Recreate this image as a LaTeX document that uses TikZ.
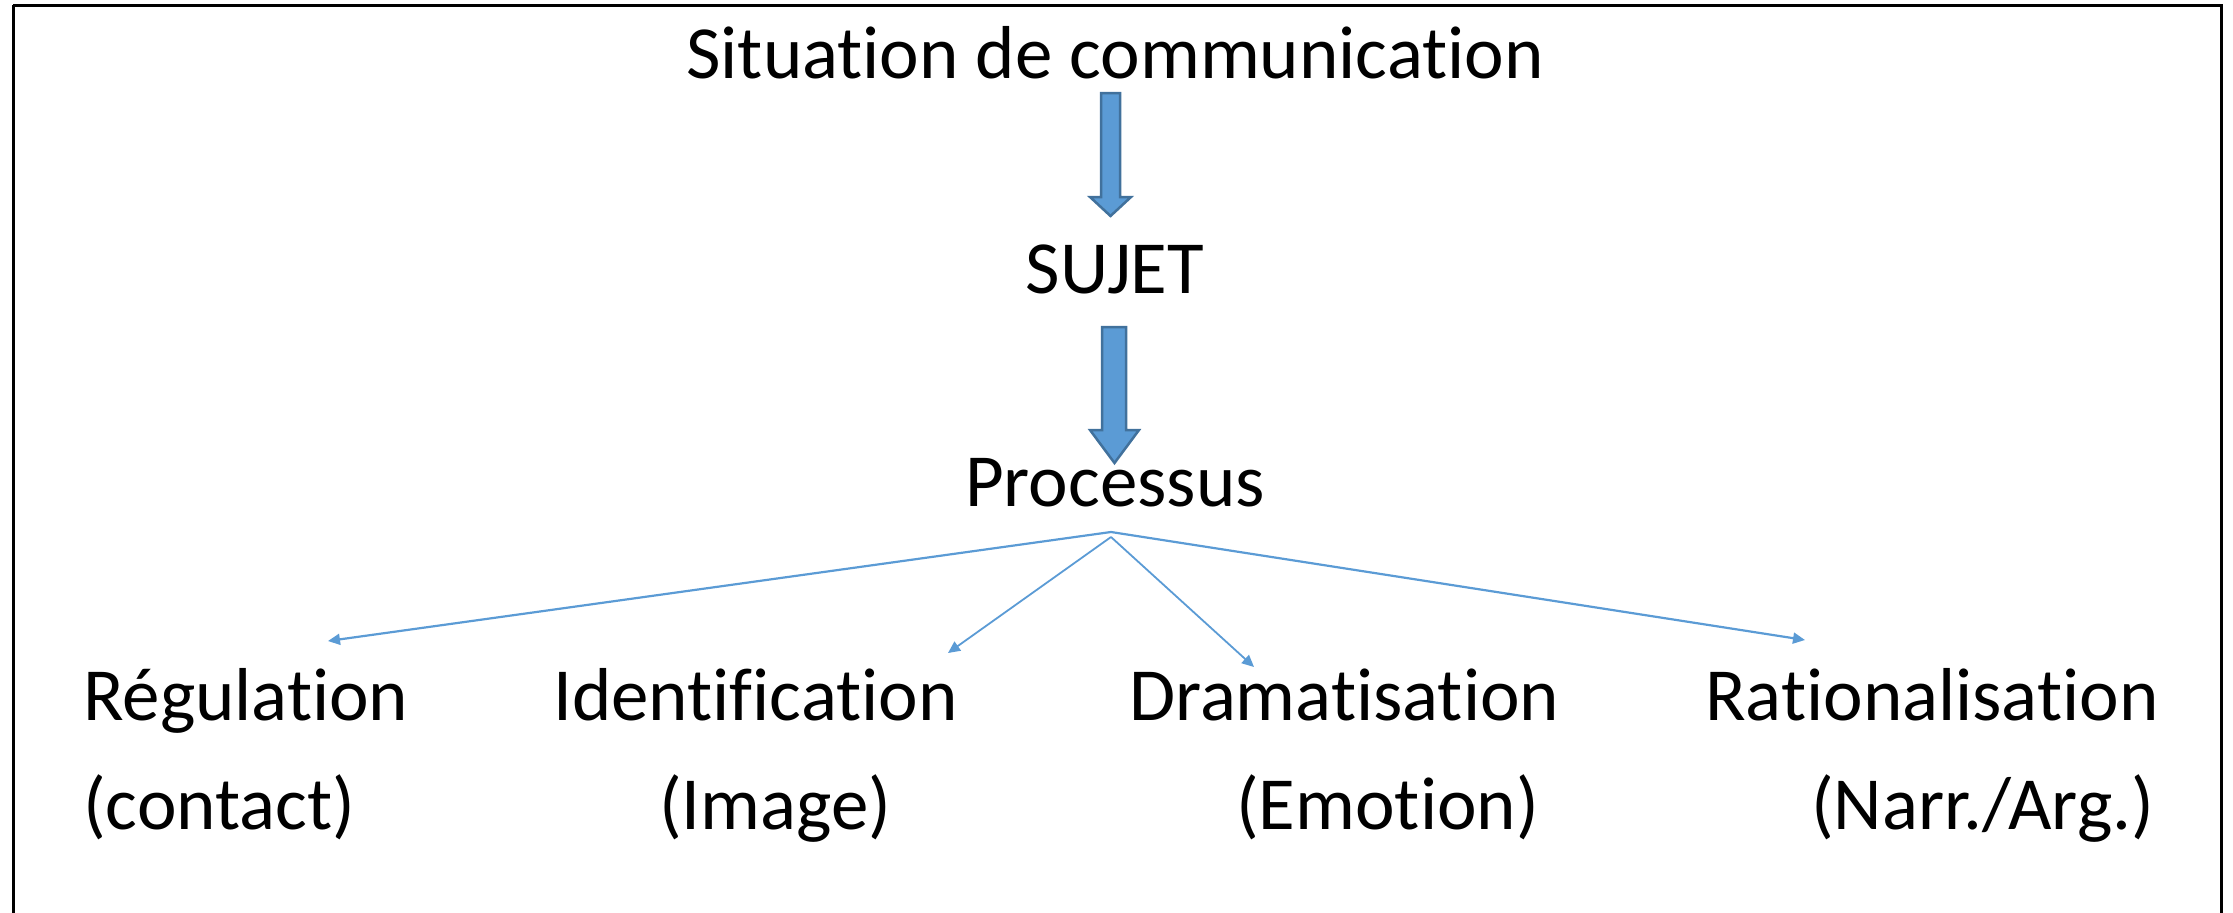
\documentclass[tikz,border=0pt]{standalone}
\usepackage{fontspec}
\setmainfont{Carlito}[Ligatures={NoCommon,TeX}]
\usetikzlibrary{arrows.meta}
\definecolor{blfill}{HTML}{5B9BD5}
\definecolor{bldraw}{HTML}{41719C}
\newcommand\nlg{\kern0pt }
\begin{document}
\begin{tikzpicture}[x=1pt,y=-1pt,
  lbl/.style={inner sep=0pt,font=\fontsize{75}{90}\selectfont},
  blockarrow/.style={fill=blfill,draw=bldraw,line width=2.5pt,line join=miter},
  thinarrow/.style={draw=blfill,line width=2.2pt,-{Triangle[length=12pt,width=11pt]}}]
\useasboundingbox (0,0) rectangle (2233,913);
\draw[line width=3pt] (13,5) -- (2221,5) -- (2221,940) (13,940) -- (13,5);
% texts
\node[lbl,anchor=base] (sit) at (1115,78) {Sit\nlg uat\nlg ion de communicat\nlg ion};
\node[lbl,anchor=base] (suj) at (1115,293) {SUJET};
\node[lbl,anchor=base] (proc) at (1115,506) {Processus};
\node[lbl,anchor=base west] (reg) at (83,720) {Régulat\nlg ion};
\node[lbl,anchor=base west] (regb) at (83,829) {(contact)};
\node[lbl,anchor=base west] (ide) at (553,720) {Ident\nlg if\nlg icat\nlg ion};
\node[lbl,anchor=base west] (ideb) at (659,829) {(Image)};
\node[lbl,anchor=base west] (dra) at (1129,720) {Dramat\nlg isat\nlg ion};
\node[lbl,anchor=base west] (drab) at (1236,829) {(Emot\nlg ion)};
\node[lbl,anchor=base west] (rat) at (1705,720) {Rat\nlg ionalisat\nlg ion};
\node[lbl,anchor=base west] (ratb) at (1811,829) {(Narr./Arg.)};
% block arrows
\draw[blockarrow] (1101,93) -- (1120,93) -- (1120,197) -- (1131,197) -- (1110.5,216) -- (1090,197) -- (1101,197) -- cycle;
\draw[blockarrow] (1102,327) -- (1126,327) -- (1126,430) -- (1139,430) -- (1114.5,463) -- (1090,430) -- (1102,430) -- cycle;
% thin arrows
\coordinate (apex) at (1111,532);
\coordinate (apexb) at (1111,537);
\coordinate (eReg) at (328,641);
\coordinate (eIde) at (948,653);
\coordinate (eDra) at (1254,667);
\coordinate (eRat) at (1805,640);
\draw[thinarrow] (apex) -- (eReg);
\draw[thinarrow,line width=1.8pt] (apexb) -- (eIde);
\draw[thinarrow,line width=1.8pt] (apexb) -- (eDra);
\draw[thinarrow] (apex) -- (eRat);
\end{tikzpicture}
\end{document}
